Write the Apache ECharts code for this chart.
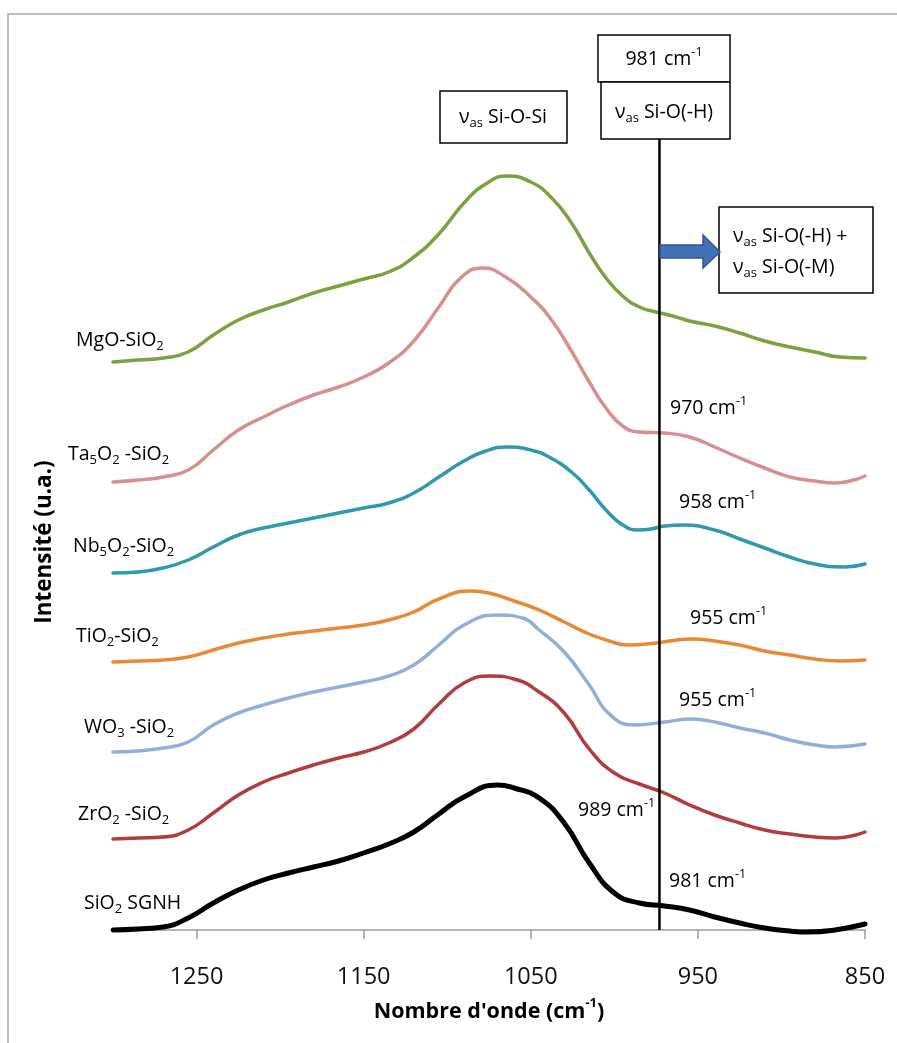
<!DOCTYPE html>
<html>
<head>
<meta charset="utf-8">
<script src="https://cdn.jsdelivr.net/npm/echarts@6/dist/echarts.min.js"></script>
<style>
  html, body { margin: 0; padding: 0; background: #fff; }
  #chart { width: 897px; height: 1043px; }
</style>
</head>
<body>
<div id="chart"></div>
<script>
  // wavenumber ticks (cm-1), axis runs from 1300 down to 850
  const xTicks = [1250, 1150, 1050, 950, 850];

  // stacked spectra: [wavenumber (cm-1), offset intensity (u.a.)]
  const mgoSiO2 = [[1300,568],[1285,570],[1270,572],[1255,578],[1240,595],[1225,610],[1210,620],[1195,628],[1180,637],[1165,644],[1150,651],[1135,658],[1120,673],[1105,696],[1090,727],[1077,746],[1064,754],[1050,748],[1038,733],[1026,708],[1015,677],[1005,652],[995,634],[985,623],[975,618],[965,614],[955,609],[940,604],[925,597],[910,589],[895,583],[880,578],[865,573],[850,572]];
  const ta5o2SiO2 = [[1300,448],[1285,450],[1270,453],[1255,460],[1240,480],[1225,500],[1210,513],[1195,525],[1180,535],[1165,543],[1150,553],[1135,567],[1120,589],[1105,623],[1092,652],[1079,662],[1065,653],[1050,633],[1038,611],[1025,577],[1015,548],[1005,522],[995,504],[985,498],[970,497],[955,493],[940,483],[925,472],[910,462],[895,453],[880,449],[868,447],[850,454]];
  const nb5o2SiO2 = [[1300,357],[1285,358],[1270,362],[1255,370],[1240,383],[1225,395],[1210,402],[1195,407],[1180,412],[1165,417],[1150,422],[1135,427],[1120,437],[1105,453],[1090,469],[1077,479],[1064,483],[1050,480],[1038,472],[1025,457],[1015,440],[1005,420],[995,405],[986,400],[978,401],[970,404],[958,405],[940,400],[925,391],[910,382],[895,373],[880,366],[862,363],[850,366]];
  const tio2SiO2 = [[1300,268],[1285,269],[1270,270],[1255,273],[1240,280],[1225,287],[1210,292],[1195,296],[1180,299],[1165,302],[1150,305],[1135,310],[1120,318],[1105,331],[1086,339],[1075,337],[1060,329],[1045,320],[1030,308],[1015,296],[1003,289],[992,285],[975,287],[954,291],[940,289],[925,285],[910,279],[895,275],[880,271],[865,269],[850,270]];
  const wo3SiO2 = [[1300,178],[1285,179],[1270,182],[1255,188],[1240,205],[1225,217],[1210,225],[1195,232],[1180,238],[1165,243],[1150,248],[1135,254],[1120,265],[1105,285],[1090,305],[1070,315],[1055,312],[1045,300],[1030,278],[1015,245],[1003,216],[988,205],[970,208],[954,211],[940,208],[925,202],[910,197],[895,190],[880,185],[868,183],[850,186]];
  const zro2SiO2 = [[1300,91],[1285,92],[1270,93],[1255,100],[1240,117],[1225,135],[1210,148],[1195,157],[1180,165],[1165,172],[1150,178],[1135,187],[1120,201],[1105,226],[1090,247],[1074,254],[1060,251],[1045,238],[1030,217],[1015,181],[1000,157],[985,146],[970,137],[955,125],[940,115],[925,107],[910,100],[895,96],[880,93],[868,92],[850,98]];
  const sio2SGNH = [[1300,0],[1285,1],[1270,3],[1255,12],[1240,27],[1225,40],[1210,50],[1195,57],[1180,63],[1165,69],[1150,77],[1135,86],[1120,98],[1105,116],[1090,133],[1070,145],[1060,142],[1045,132],[1030,107],[1015,67],[1000,37],[985,27],[970,24],[955,20],[940,13],[925,7],[910,2],[895,-1],[885,-2],[868,0],[850,6]];

  // vertical reference line (981 cm-1 marker)
  const markerX = 973;
  const markerY = [0, 791];

  const FONT = 'Open Sans';
  const chart = echarts.init(document.getElementById('chart'));

  const rich = {
    n: { fontFamily: FONT, fontSize: 19.5, lineHeight: 26, color: '#000' },
    s: { fontFamily: FONT, fontSize: 13, lineHeight: 13, verticalAlign: 'bottom', color: '#000' },
    p: { fontFamily: FONT, fontSize: 12.5, lineHeight: 13, verticalAlign: 'top', color: '#000' }
  };

  function label(x, y, text, align) {
    return {
      type: 'text', x: x, y: y, z: 100,
      style: { text: text, rich: rich, textAlign: align || 'left', textVerticalAlign: 'middle', align: align || 'left', verticalAlign: 'middle' }
    };
  }
  function box(x, y, w, h) {
    return {
      type: 'rect', z: 90,
      shape: { x: x, y: y, width: w, height: h },
      style: { fill: '#fff', stroke: '#000', lineWidth: 1.5 }
    };
  }

  function line(name, data, color, width) {
    return {
      name: name, type: 'line', data: data,
      smooth: 0.5,
      showSymbol: false, symbol: 'none',
      lineStyle: { color: color, width: width || 3.5, join: 'round', cap: 'round' },
      emphasis: { disabled: true }
    };
  }

  const option = {
    animation: false,
    grid: { left: 113, right: 32, top: 30, bottom: 103 },
    xAxis: {
      type: 'value', min: 850, max: 1300, inverse: true,
      axisLine: { onZero: true, lineStyle: { color: '#9a9a9a', width: 1.5 } },
      axisTick: { customValues: xTicks, length: 9, lineStyle: { color: '#9a9a9a', width: 1.5 } },
      axisLabel: { customValues: xTicks, formatter: v => String(v), fontFamily: FONT, fontSize: 23.5, color: '#111', margin: 25 },
      splitLine: { show: false },
      name: '{b|Nombre d\'onde (cm}{bp|-1}{b|)}',
      nameLocation: 'middle', nameGap: 57,
      nameTextStyle: {
        rich: {
          b: { fontFamily: FONT, fontWeight: 'bold', fontSize: 21.5, lineHeight: 30, color: '#000' },
          bp: { fontFamily: FONT, fontWeight: 'bold', fontSize: 13, lineHeight: 14, verticalAlign: 'top', color: '#000' }
        }
      }
    },
    yAxis: { type: 'value', min: -10, max: 900, show: false, splitLine: { show: false } },
    series: [
      line('MgO-SiO2', mgoSiO2, '#7ba23f'),
      line('Ta5O2-SiO2', ta5o2SiO2, '#d6918f'),
      line('Nb5O2-SiO2', nb5o2SiO2, '#3199ac'),
      line('TiO2-SiO2', tio2SiO2, '#e88a35'),
      line('WO3-SiO2', wo3SiO2, '#93afd9'),
      line('ZrO2-SiO2', zro2SiO2, '#b03c3c'),
      line('SiO2 SGNH', sio2SGNH, '#000', 5),
      {
        name: '981', type: 'line', showSymbol: false, symbol: 'none',
        data: markerY.map(y => [markerX, y]),
        lineStyle: { color: '#000', width: 2.5 },
        emphasis: { disabled: true }
      }
    ],
    graphic: [
      { type: 'rect', z: -1, shape: { x: 8, y: 14, width: 1000, height: 1100 },
        style: { fill: 'none', stroke: '#a6a6a6', lineWidth: 1.5 } },
      {
        type: 'text', x: 45, y: 542, rotation: Math.PI / 2,
        style: { text: 'Intensité (u.a.)', font: 'bold 22.5px "Open Sans"', fill: '#000',
                 textAlign: 'center', textVerticalAlign: 'middle', align: 'center', verticalAlign: 'middle' }
      },
      label(76, 340, '{n|MgO-SiO}{s|2}'),
      label(68, 454, '{n|Ta}{s|5}{n|O}{s|2}{n| -SiO}{s|2}'),
      label(73, 546, '{n|Nb}{s|5}{n|O}{s|2}{n|-SiO}{s|2}'),
      label(76, 636, '{n|TiO}{s|2}{n|-SiO}{s|2}'),
      label(84, 727, '{n|WO}{s|3}{n| -SiO}{s|2}'),
      label(78, 814, '{n|ZrO}{s|2}{n| -SiO}{s|2}'),
      label(84, 903, '{n|SiO}{s|2}{n| SGNH}'),

      label(670, 408, '{n|970 cm}{p|-1}'),
      label(679, 502, '{n|958 cm}{p|-1}'),
      label(690, 618, '{n|955 cm}{p|-1}'),
      label(679, 700, '{n|955 cm}{p|-1}'),
      label(578, 810, '{n|989 cm}{p|-1}'),
      label(669, 881, '{n|981 cm}{p|-1}'),

      box(440, 91, 127, 52),
      label(503, 117, '{n|ν}{s|as}{n| Si-O-Si}', 'center'),
      box(598, 35, 132, 47),
      label(664, 59, '{n|981 cm}{p|-1}', 'center'),
      box(601, 82, 129, 57),
      label(664, 112, '{n|ν}{s|as}{n| Si-O(-H)}', 'center'),
      box(719, 207, 154, 86),
      label(733, 236, '{n|ν}{s|as}{n| Si-O(-H) +}'),
      label(733, 267, '{n|ν}{s|as}{n| Si-O(-M)}'),
      {
        type: 'polygon', z: 95,
        shape: { points: [[660,245],[703,245],[703,235],[720,252],[703,268],[703,258],[660,258]] },
        style: { fill: '#4372b4', stroke: '#2f5597', lineWidth: 1.5 }
      }
    ]
  };

  chart.setOption(option);
</script>
</body>
</html>
